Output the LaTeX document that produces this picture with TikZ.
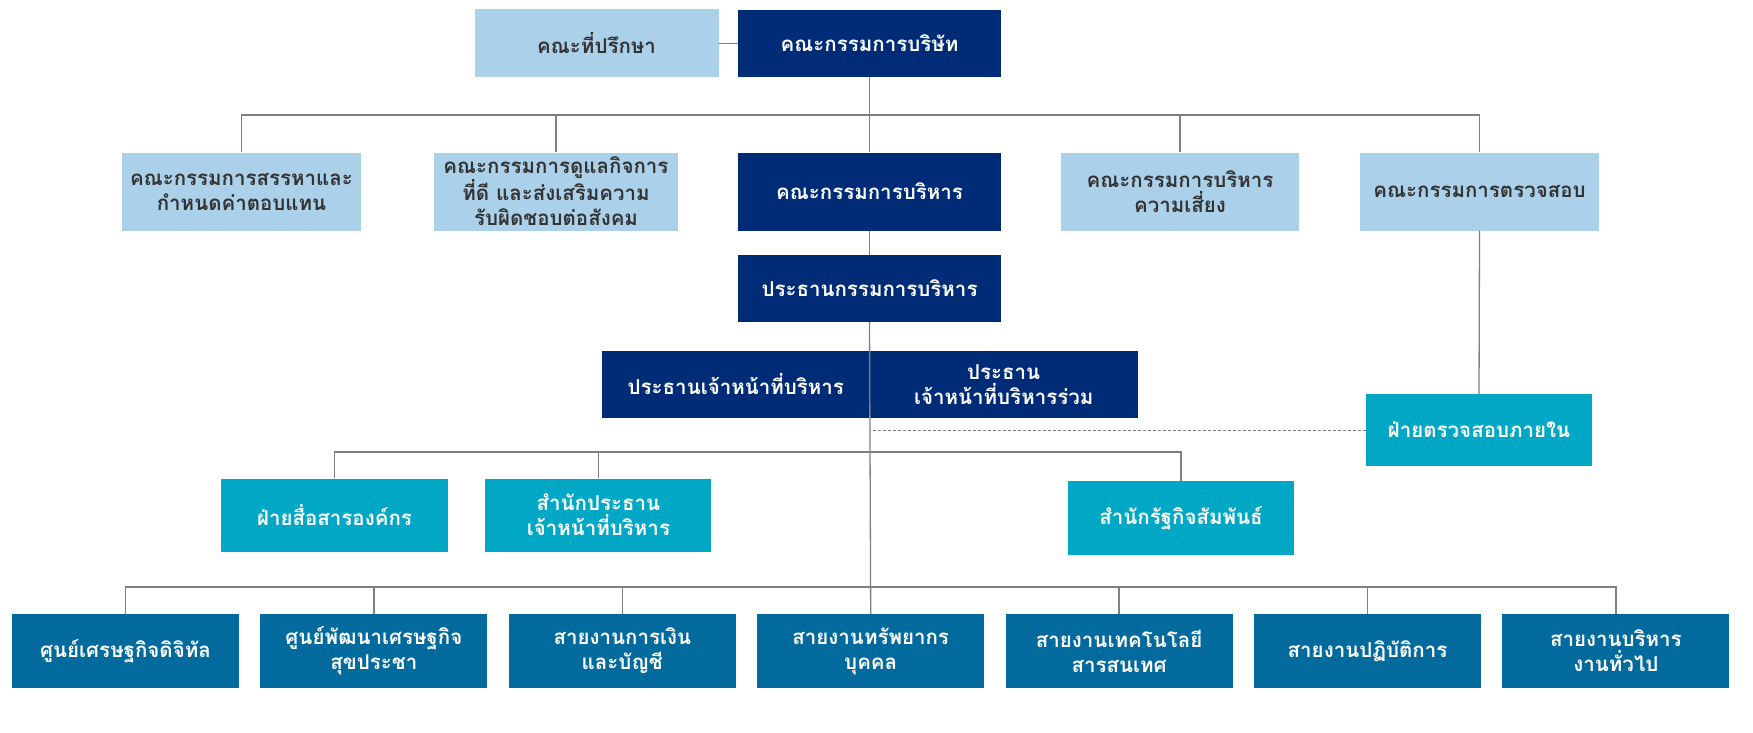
\documentclass[tikz,border=0pt]{standalone}
\usepackage{fontspec}
\newfontfamily\thaifont[Script=Thai]{Loma}
\usepackage{tikz}
\usetikzlibrary{positioning,calc}
\definecolor{colorLfill}{HTML}{ABD0E9}
\definecolor{colorNfill}{HTML}{002C77}
\definecolor{colorTfill}{HTML}{00A8C6}
\definecolor{colorSfill}{HTML}{036A9E}
\definecolor{colorLine}{HTML}{808080}
\definecolor{colorText}{HTML}{333333}

\begin{document}
\begin{tikzpicture}[
    x=1pt, y=-1pt,
    node distance=21pt,
    box/.style={rectangle, align=center, inner sep=0pt, font=\thaifont\bfseries\fontsize{20.5}{25}\selectfont},
    committee/.style={box, fill=colorLfill, text=colorText, minimum width=239pt, minimum height=78pt},
    exec/.style={box, fill=colorNfill, text=white, minimum width=263pt, minimum height=67pt},
    office/.style={box, fill=colorTfill, text=white, minimum width=226pt, minimum height=73pt},
    unit/.style={box, fill=colorSfill, text=white, minimum width=227pt, minimum height=74pt},
    link/.style={draw=colorLine, line width=1.3pt}
]
    \useasboundingbox (0,0) rectangle (1753,733);

    % Nodes
    \node[exec] (board) at (869.5,43.5) {คณะกรรมการบริษัท};
    \node[committee, minimum width=244pt, minimum height=68pt, left=19pt of board] (advisor) {คณะที่ปรึกษา};

    \node[committee] (nomination) at (241.5,191.5) {คณะกรรมการสรรหาและ\\กำหนดค่าตอบแทน};
    \node[committee, minimum width=244pt] (governance) at (556,191.5) {คณะกรรมการดูแลกิจการ\\ที่ดี และส่งเสริมความ\\รับผิดชอบต่อสังคม};
    \node[exec, minimum height=78pt] (execboard) at (869.5,191.5) {คณะกรรมการบริหาร};
    \node[committee, minimum width=238pt] (risk) at (1180,191.5) {คณะกรรมการบริหาร\\ความเสี่ยง};
    \node[committee] (audit) at (1479.5,191.5) {คณะกรรมการตรวจสอบ};

    \node[exec, below=24pt of execboard] (execchair) {ประธานกรรมการบริหาร};
    \node[exec, minimum width=267pt, anchor=east] (ceo) at (869.5,384.5) {ประธานเจ้าหน้าที่บริหาร};
    \node[exec, minimum width=268pt, right=0pt of ceo] (coceo) {ประธาน\\เจ้าหน้าที่บริหารร่วม};

    \node[office, minimum height=72pt] (internal) at (1479,430) {ฝ่ายตรวจสอบภายใน};

    \node[office, minimum width=227pt] (comms) at (334.5,515) {ฝ่ายสื่อสารองค์กร};
    \node[office, right=37pt of comms] (ceooffice) {สำนักประธาน\\เจ้าหน้าที่บริหาร};
    \node[office, minimum height=74pt] (govrel) at (1181,518) {สำนักรัฐกิจสัมพันธ์};

    \node[unit] (digital) at (125.5,651) {ศูนย์เศรษฐกิจดิจิทัล};
    \node[unit, right=of digital] (wellness) {ศูนย์พัฒนาเศรษฐกิจ\\สุขประชา};
    \node[unit, right=of wellness] (finance) {สายงานการเงิน\\และบัญชี};
    \node[unit, right=of finance] (hr) {สายงานทรัพยากร\\บุคคล};
    \node[unit, right=of hr] (it) {สายงานเทคโนโลยี\\สารสนเทศ};
    \node[unit, right=of it] (operations) {สายงานปฏิบัติการ};
    \node[unit, right=of operations] (admin) {สายงานบริหาร\\งานทั่วไป};

    \coordinate (bus1) at (0,115);
    \coordinate (bus3) at (0,452);
    \coordinate (bus4) at (0,587);

    % Edges
    \draw[link] (advisor.east) -- (board.west);
    \draw[link] (board.south) -- (execboard.north);
    \draw[link] (nomination.north) |- (audit.north |- bus1) -- (audit.north);
    \draw[link] (governance.north |- bus1) -- (governance.north);
    \draw[link] (risk.north |- bus1) -- (risk.north);
    \draw[link] (execboard.south) -- (execchair.north);
    \draw[link] (audit.south) -- (internal.north);

    \draw[link] (comms.north) |- (govrel.north |- bus3) -- (govrel.north);
    \draw[link] (ceooffice.north |- bus3) -- (ceooffice.north);

    \draw[link] (digital.north) |- (admin.north |- bus4) -- (admin.north);
    \draw[link] (wellness.north |- bus4) -- (wellness.north);
    \draw[link] (finance.north |- bus4) -- (finance.north);
    \draw[link] (it.north |- bus4) -- (it.north);
    \draw[link] (operations.north |- bus4) -- (operations.north);

    % Spine through the two chief executives
    \draw[link] (execchair.south) -- (hr.north);
    \draw[link, dashed, line width=0.9pt, dash pattern=on 3pt off 2pt] (internal.west) -- (internal.west -| execchair.south);

\end{tikzpicture}
\end{document}
